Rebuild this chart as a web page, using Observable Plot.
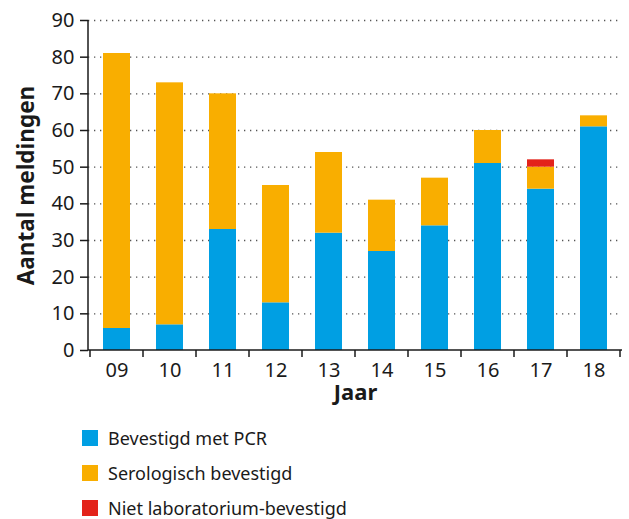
<!DOCTYPE html>
<html>
<head>
<meta charset="utf-8">
<script src="https://cdn.jsdelivr.net/npm/d3@7"></script>
<script src="https://cdn.jsdelivr.net/npm/@observablehq/plot@0.6"></script>
<style>
  body { margin: 0; background: #fff; font-family: "Noto Sans", sans-serif; color: #1a1a1a; }
  #legend { padding-top: 5px; padding-left: 82px; }
  .row { display: flex; align-items: center; height: 35px; font-size: 18px; }
  .sw { width: 16px; height: 16px; margin-right: 10px; }
</style>
</head>
<body>
<div id="chart"></div>
<div id="legend"></div>
<script>
const years = ["09","10","11","12","13","14","15","16","17","18"];
const pcr   = [6, 7, 33, 13, 32, 27, 34, 51, 44, 61];
const sero  = [75, 66, 37, 32, 22, 14, 13, 9, 6, 3];
const niet  = [0, 0, 0, 0, 0, 0, 0, 0, 2, 0];
const seriesNames = ["Bevestigd met PCR", "Serologisch bevestigd", "Niet laboratorium-bevestigd"];
const seriesColors = ["#009fe3", "#f9ae00", "#e3231a"];
const yTicks = [0, 10, 20, 30, 40, 50, 60, 70, 80, 90];
const yLabel = "Aantal meldingen";
const xLabel = "Jaar";

const seriesValues = [pcr, sero, niet];
const data = [];
seriesNames.forEach((s, i) => {
  years.forEach((y, j) => data.push({year: y, series: s, value: seriesValues[i][j]}));
});

const plot = Plot.plot({
  width: 629,
  height: 415,
  marginTop: 20,
  marginBottom: 65,
  marginLeft: 88,
  marginRight: 7,
  style: {fontFamily: "Noto Sans, sans-serif", fontSize: "19px", color: "#1a1a1a", background: "#fff"},
  x: {domain: years, paddingInner: 0.5, paddingOuter: 0.25, label: null},
  y: {domain: [0, 90], label: null},
  color: {domain: seriesNames, range: seriesColors},
  marks: [
    Plot.ruleY(yTicks.filter(d => d > 0), {stroke: "#555", strokeWidth: 1.3, strokeDasharray: "1.3,4.7"}),
    Plot.barY(data, {x: "year", y: "value", fill: "series"}),
    Plot.axisY({ticks: yTicks, tickSize: 8, tickPadding: 6, fontSize: 20, label: null, strokeWidth: 1.5}),
    Plot.axisX({tickSize: 0, tickPadding: 12, fontSize: 20, label: null}),
    Plot.text([yLabel], {frameAnchor: "left", textAnchor: "middle", rotate: -90, dx: -62, fontWeight: "bold", fontSize: 22.5, fill: "#1a1a1a"}),
    Plot.text([xLabel], {frameAnchor: "bottom", textAnchor: "middle", dy: 49, fontWeight: "bold", fontSize: 22, fill: "#1a1a1a"})
  ]
});

// axis lines and category boundary ticks, from the plot's own scales
const xs = plot.scale("x");
const ys = plot.scale("y");
const g = d3.select(plot).append("g").attr("stroke", "#1a1a1a").attr("stroke-width", 1.5);
const y0 = ys.apply(0), yTop = ys.apply(90);
const x0 = xs.range[0], x1 = xs.range[1];
g.append("line").attr("x1", x0).attr("x2", x0).attr("y1", yTop).attr("y2", y0);
g.append("line").attr("x1", x0).attr("x2", x1).attr("y1", y0).attr("y2", y0);
const gap = (xs.step - xs.bandwidth) / 2;
const bounds = years.map(y => xs.apply(y) - gap);
bounds.push(xs.apply(years[years.length - 1]) + xs.bandwidth + gap);
bounds.forEach(b => g.append("line").attr("x1", b).attr("x2", b).attr("y1", y0).attr("y2", y0 + 7));

document.getElementById("chart").appendChild(plot);

const legend = d3.select("#legend");
seriesNames.forEach((s, i) => {
  const r = legend.append("div").attr("class", "row");
  r.append("div").attr("class", "sw").style("background", seriesColors[i]);
  r.append("span").text(s);
});
</script>
</body>
</html>
